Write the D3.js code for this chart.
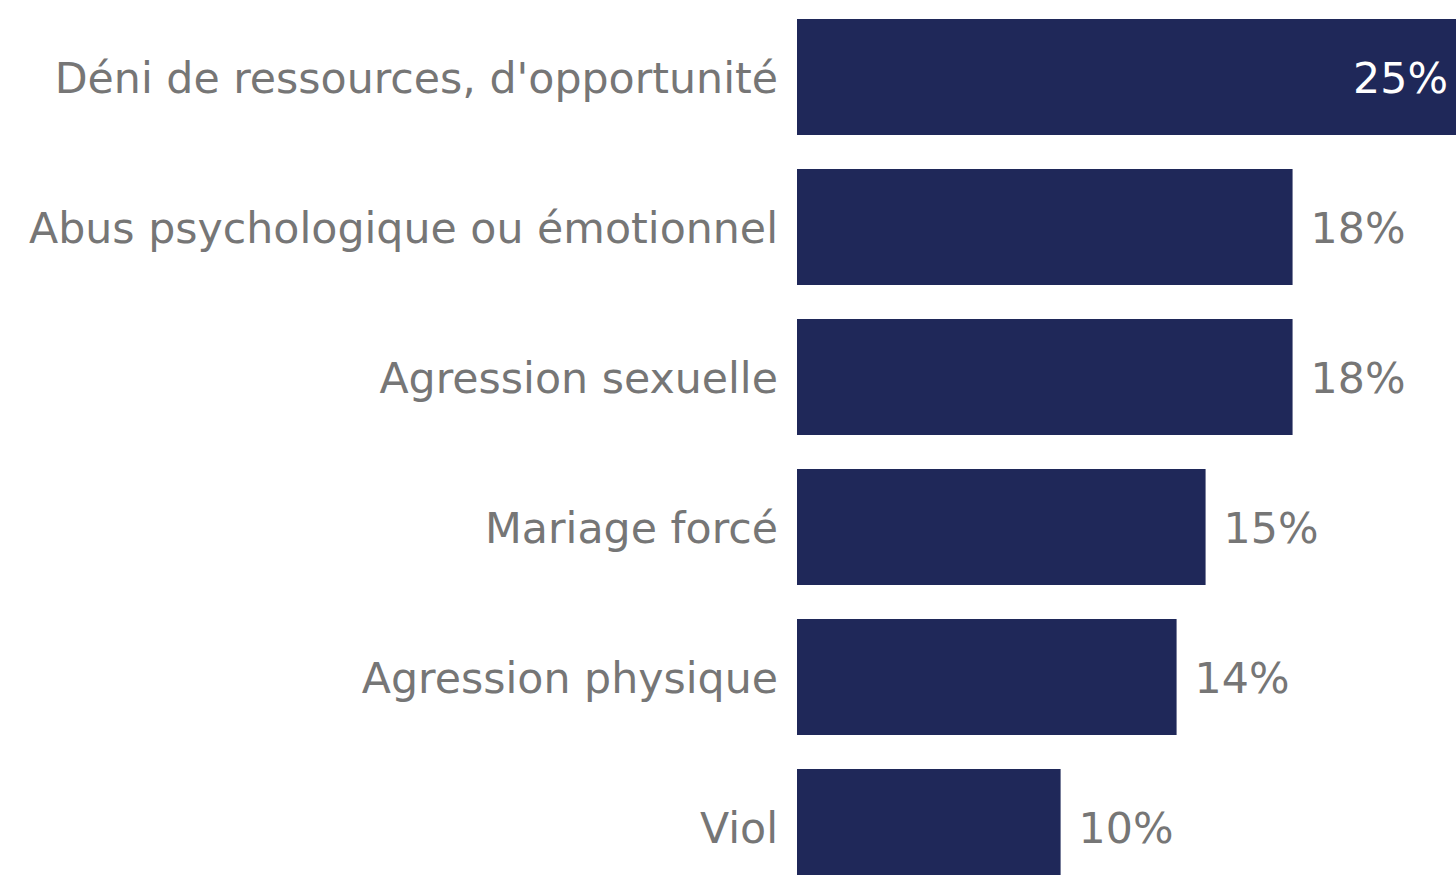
<!DOCTYPE html>
<html>
<head>
<meta charset="utf-8">
<script src="https://cdn.jsdelivr.net/npm/d3@7"></script>
<style>
  html, body { margin: 0; padding: 0; background: #fff; overflow: hidden; }
  svg { display: block; }
</style>
</head>
<body>
<div id="chart"></div>
<script>
// data
const categories = [
  "Déni de ressources, d'opportunité",
  "Abus psychologique ou émotionnel",
  "Agression sexuelle",
  "Mariage forcé",
  "Agression physique",
  "Viol"
];
const values = [25.0, 18.8, 18.8, 15.5, 14.4, 10.0];
const valueLabels = ["25%", "18%", "18%", "15%", "14%", "10%"];

const width = 1456, height = 875;
const barColor = "#1f2859";
const textColor = "#767676";
const fontSize = 42.7;

const svg = d3.select("#chart").append("svg")
  .attr("width", width)
  .attr("height", height);

// scales
const x = d3.scaleLinear().domain([0, 25]).range([797, 1456]);
const y = d3.scaleBand().domain(categories).range([2, 902])
  .paddingInner(34 / 150).paddingOuter(17 / 150);

const rows = svg.selectAll(".row")
  .data(categories.map((c, i) => ({ cat: c, v: values[i], lbl: valueLabels[i] })))
  .enter().append("g")
  .attr("class", "row");

rows.append("rect")
  .attr("x", x(0))
  .attr("y", d => y(d.cat))
  .attr("width", d => x(d.v) - x(0))
  .attr("height", y.bandwidth())
  .attr("fill", barColor);

// category labels
rows.append("text")
  .attr("x", x(0) - 19)
  .attr("y", d => y(d.cat) + y.bandwidth() / 2)
  .attr("dy", "0.37em")
  .attr("text-anchor", "end")
  .style("font-family", "'DejaVu Sans', Verdana, sans-serif")
  .style("font-size", fontSize + "px")
  .attr("fill", textColor)
  .text(d => d.cat);

// value labels, inside the bar when it reaches the edge
rows.append("text")
  .attr("x", d => x(d.v) >= width - 1 ? x(d.v) - 8 : x(d.v) + 18)
  .attr("y", d => y(d.cat) + y.bandwidth() / 2)
  .attr("dy", "0.37em")
  .attr("text-anchor", d => x(d.v) >= width - 1 ? "end" : "start")
  .style("font-family", "'DejaVu Sans', Verdana, sans-serif")
  .style("font-size", fontSize + "px")
  .attr("fill", d => x(d.v) >= width - 1 ? "#ffffff" : textColor)
  .text(d => d.lbl);
</script>
</body>
</html>
